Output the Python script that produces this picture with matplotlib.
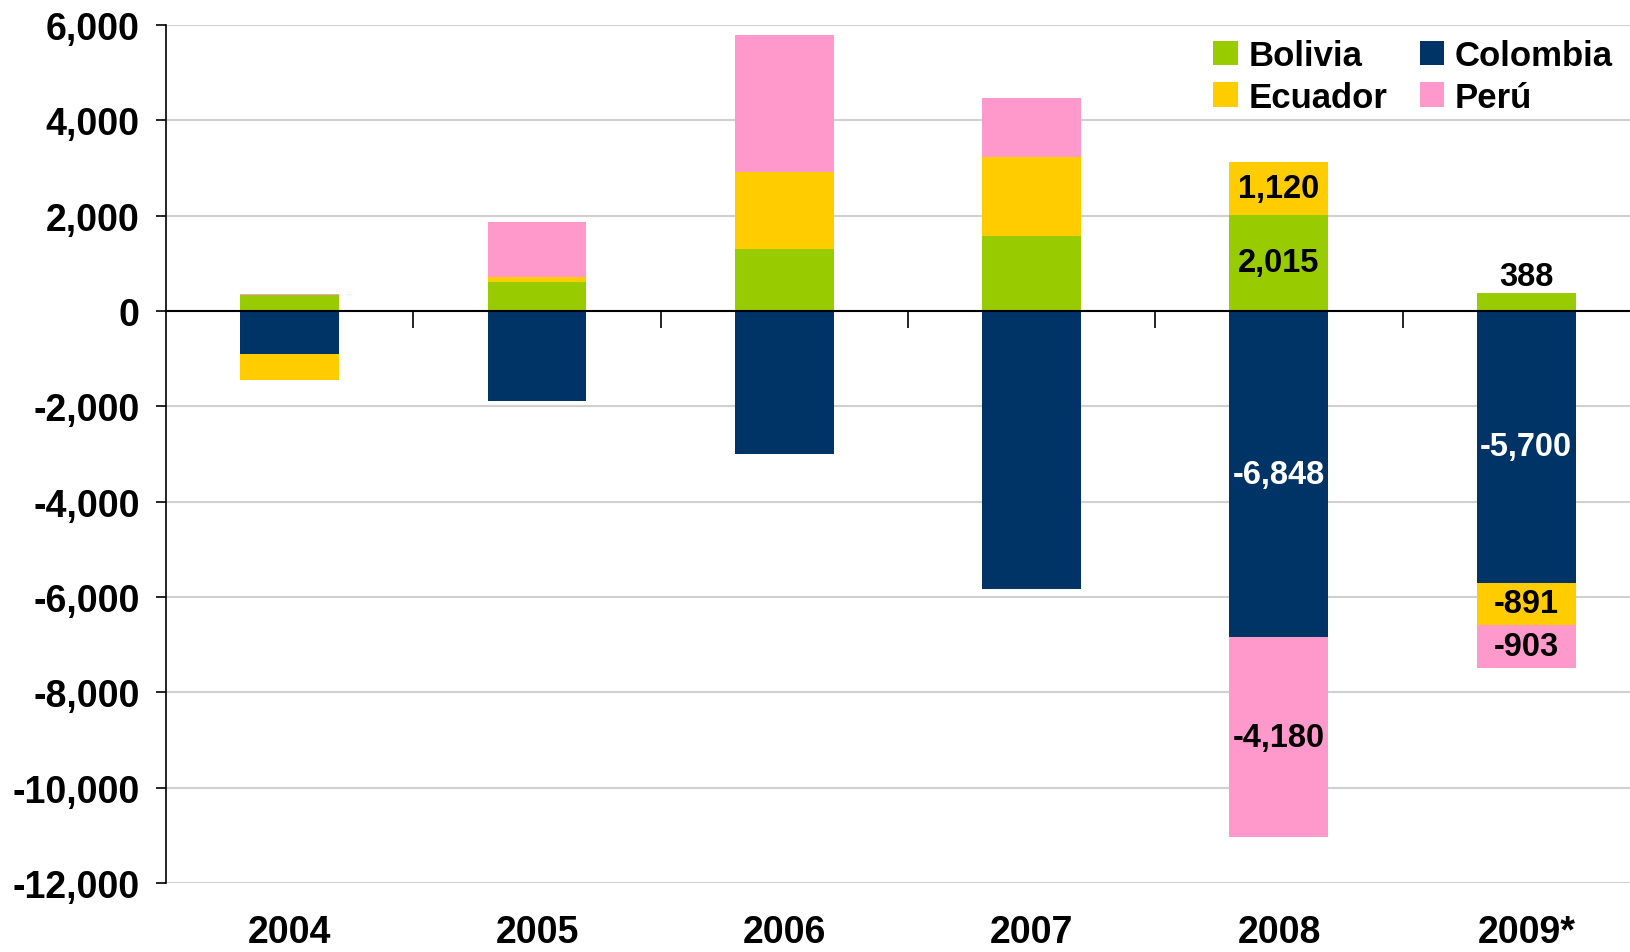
import matplotlib
matplotlib.use("Agg")
import matplotlib.pyplot as plt
import numpy as np
from matplotlib.transforms import blended_transform_factory

plt.rcParams['font.family'] = ['Liberation Sans', 'DejaVu Sans']
plt.rcParams['font.weight'] = 'bold'

years = ['2004', '2005', '2006', '2007', '2008', '2009*']
bolivia = [340, 615, 1300, 1573, 2015, 388]
ecuador = [-540, 105, 1616, 1664, 1120, -891]
colombia = [-902, -1880, -2990, -5826, -6848, -5700]
peru = [25, 1157, 2874, 1231, -4180, -903]

colors = {'Bolivia': '#99CC00', 'Ecuador': '#FFCC00',
          'Colombia': '#003366', 'Perú': '#FF99CC'}

fig = plt.figure(figsize=(16.31, 9.53), dpi=100)
ax = fig.add_axes([0.1018, 0.0724, 0.9098, 0.9003])

x = np.arange(len(years))
width = 0.40
# stacking order: positives Bolivia/Ecuador/Peru, negatives Colombia/Ecuador/Peru
series = [('Bolivia', bolivia), ('Colombia', colombia),
          ('Ecuador', ecuador), ('Perú', peru)]

pos_base = np.zeros(len(years))
neg_base = np.zeros(len(years))
bars = {}
for name, vals in series:
    vals = np.array(vals, dtype=float)
    bottoms = np.where(vals >= 0, pos_base, neg_base)
    bars[name] = ax.bar(x, vals, width, bottom=bottoms, color=colors[name],
                        label=name, zorder=3)
    pos_base = pos_base + np.where(vals >= 0, vals, 0)
    neg_base = neg_base + np.where(vals < 0, vals, 0)

# data labels for 2008 and 2009*
label_color = {'Bolivia': 'black', 'Ecuador': 'black', 'Colombia': 'white', 'Perú': 'black'}
for name, _ in series:
    for i in (4, 5):
        rect = bars[name][i]
        v = rect.get_height()
        txt = f'{int(round(v)):,}'
        cx = rect.get_x() + rect.get_width() / 2
        if name == 'Bolivia' and i == 5:
            ax.text(cx, rect.get_y() + v + 20, txt, ha='center', va='bottom',
                    fontsize=23.5, fontweight='bold', color='black', zorder=4)
        else:
            ax.text(cx, rect.get_y() + v / 2, txt, ha='center', va='center',
                    fontsize=23.5, fontweight='bold', color=label_color[name], zorder=4)

ax.set_xlim(-0.5, len(years) - 0.5)
ax.set_ylim(-12000, 6000)
ax.set_yticks(np.arange(-12000, 6001, 2000))
ax.set_yticklabels([f'{v:,}' for v in range(-12000, 6001, 2000)],
                   fontsize=27, fontweight='bold')
ax.grid(axis='y', color='#D0D0D0', linewidth=1.5, zorder=0)

for s in ('top', 'right'):
    ax.spines[s].set_visible(False)
ax.spines['bottom'].set_position(('data', 0))
ax.spines['bottom'].set_linewidth(1.5)
ax.spines['bottom'].set_zorder(5)
ax.spines['left'].set_linewidth(1.2)

ax.set_xticks(np.arange(0.5, len(years) - 0.5, 1))
ax.set_xticklabels([])
ax.tick_params(axis='x', length=12, width=1.2, direction='out')
ax.tick_params(axis='y', length=7, width=1.2, direction='out', pad=12)

# category labels sit at the bottom of the figure, not at the zero line
trans = blended_transform_factory(ax.transData, fig.transFigure)
for xi, yr in zip(x, years):
    ax.text(xi, 2 / 953, yr, transform=trans, ha='center', va='bottom',
            fontsize=27, fontweight='bold')

names = ['Bolivia', 'Ecuador', 'Colombia', 'Perú']
handles = [bars[n] for n in names]
leg = fig.legend(handles, names, ncol=2,
                 loc='upper right', bbox_to_anchor=(1.008, 0.991), frameon=False,
                 prop={'size': 25, 'weight': 'bold'}, handlelength=0.7,
                 handleheight=0.7, handletextpad=0.3, columnspacing=0.95,
                 labelspacing=0.25)

fig.savefig('out.png', dpi=100)
